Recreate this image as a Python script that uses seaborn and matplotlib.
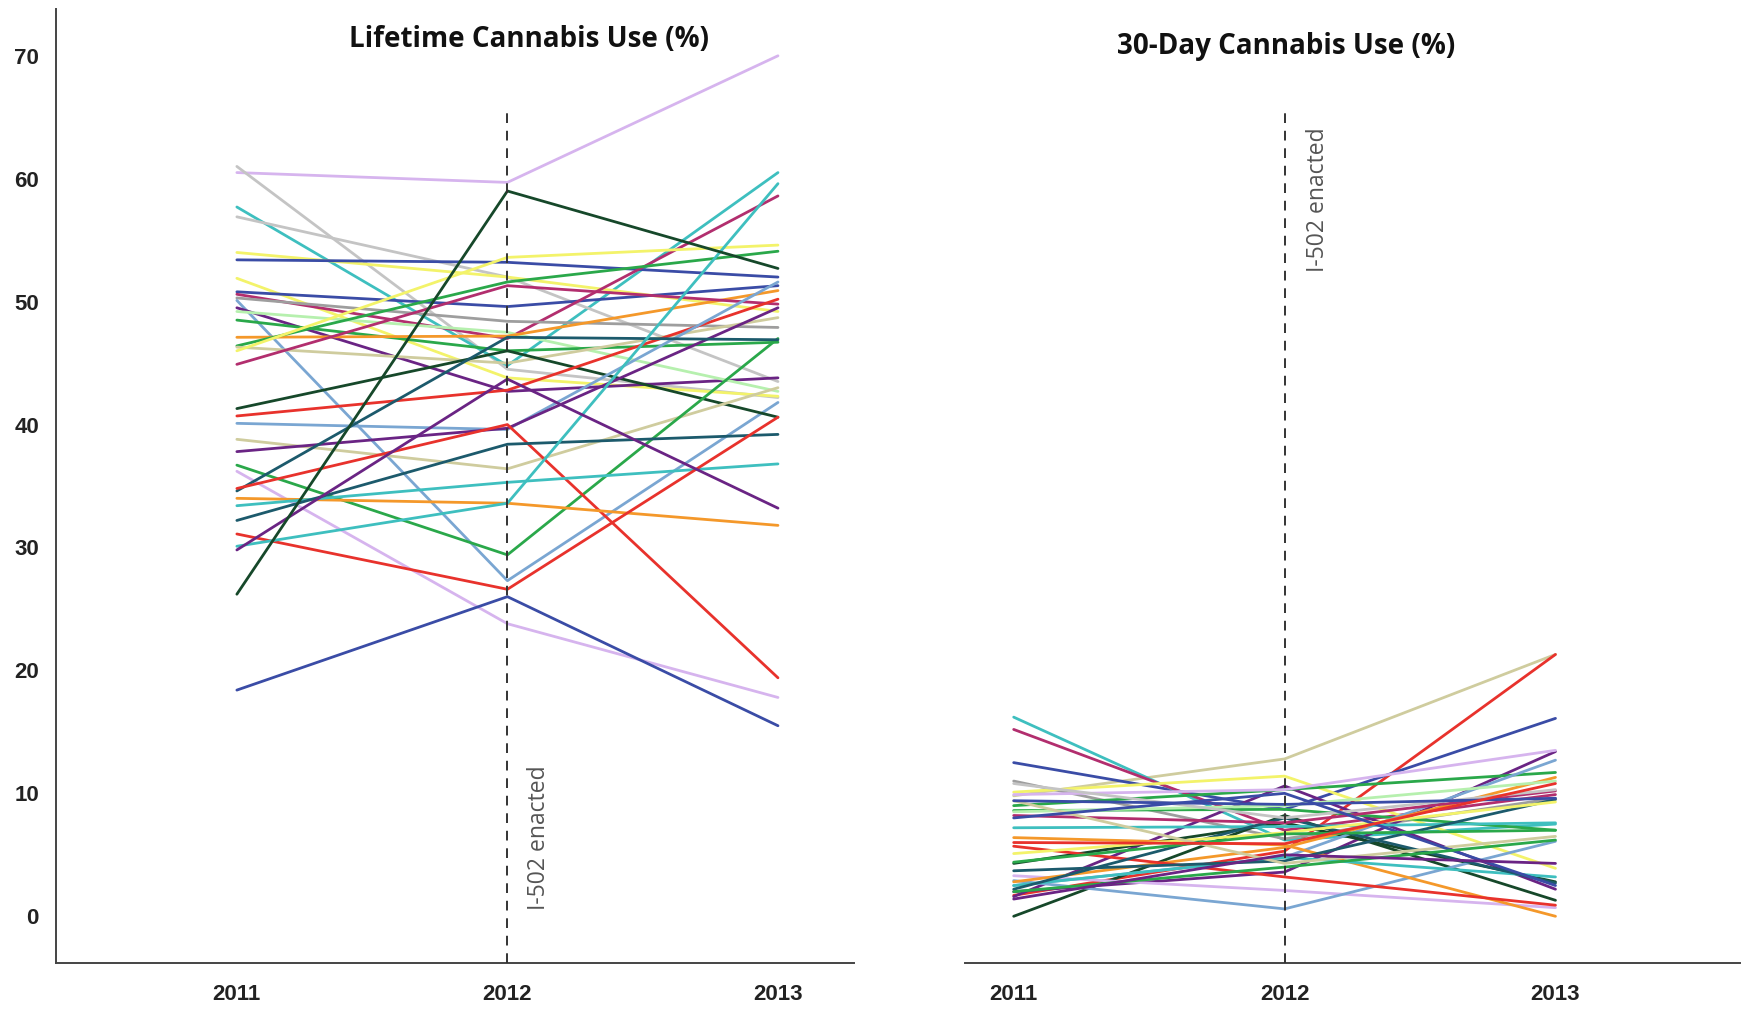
import matplotlib
matplotlib.use("Agg")
import matplotlib.pyplot as plt
import seaborn as sns
import pandas as pd

sns.set_theme(style="white")
plt.rcParams["font.family"] = ["Liberation Sans", "DejaVu Sans"]

years = [2011, 2012, 2013]

# Lifetime cannabis use (%), one entry per school district
lifetime_2011 = [60.5, 61.0, 57.7, 56.9, 54.0, 53.4, 51.9, 50.8, 50.6, 50.3, 50.1, 49.5,
                 49.2, 48.5, 47.1, 46.4, 46.3, 46.0, 44.9, 41.3, 40.7, 40.1, 38.8, 37.8,
                 36.7, 36.2, 34.6, 34.8, 34.0, 33.4, 32.2, 31.1, 30.1, 29.8, 26.2, 18.4]
lifetime_2012 = [59.7, 44.5, 44.8, 52.0, 52.0, 53.2, 43.8, 49.6, 47.0, 48.4, 27.3, 42.7,
                 47.5, 46.0, 47.2, 51.6, 45.0, 53.6, 51.3, 46.0, 42.8, 39.6, 36.4, 39.7,
                 29.4, 23.8, 47.1, 40.0, 33.6, 35.3, 38.4, 26.6, 33.6, 43.7, 59.0, 26.0]
lifetime_2013 = [70.0, 42.2, 60.5, 43.5, 49.2, 52.0, 42.3, 51.3, 58.6, 47.9, 41.8, 43.8,
                 42.7, 46.7, 50.9, 54.1, 48.7, 54.6, 49.8, 40.6, 50.2, 51.6, 43.0, 49.5,
                 47.0, 17.8, 46.9, 19.4, 31.8, 36.8, 39.2, 40.6, 59.6, 33.2, 52.7, 15.5]
lifetime_colors = ["lav", "silver", "teal", "silver", "yellow", "blue", "yellow", "blue",
                   "magenta", "gray", "steel", "purple", "lgreen", "green", "orange", "green",
                   "khaki", "yellow", "magenta", "dgreen", "red", "steel", "khaki", "purple",
                   "green", "lav", "dteal", "red", "orange", "teal", "dteal", "red",
                   "teal", "purple", "dgreen", "blue"]

# 30-day cannabis use (%)
month_2011 = [9.8, 1.7, 12.5, 16.2, 15.2, 11.0, 10.1, 1.6, 2.0, 0.0, 4.3, 9.0,
              8.6, 3.3, 9.9, 2.9, 2.5, 2.8, 6.4, 5.7, 7.2, 2.5, 3.7, 2.2,
              8.2, 8.5, 5.1, 9.4, 10.8, 9.4, 8.0, 2.0, 4.4, 1.4, 6.0]
month_2012 = [12.8, 5.3, 8.7, 6.2, 7.0, 6.3, 11.4, 10.6, 3.6, 8.2, 7.6, 10.3,
              8.7, 2.1, 10.3, 0.6, 4.8, 5.6, 5.8, 3.2, 7.3, 4.8, 4.5, 8.0,
              7.6, 9.0, 6.8, 4.3, 8.0, 9.1, 10.0, 4.0, 6.7, 5.0, 5.9]
month_2013 = [21.3, 21.3, 16.1, 7.5, 9.9, 9.6, 3.9, 2.2, 13.4, 1.3, 2.8, 11.7,
              7.0, 0.7, 13.5, 6.1, 12.7, 11.3, 0.0, 0.9, 7.6, 3.2, 9.5, 2.7,
              10.2, 11.0, 9.3, 6.5, 10.3, 9.6, 2.5, 6.2, 7.0, 4.3, 10.8]
month_colors = ["khaki", "red", "blue", "teal", "magenta", "gray", "yellow", "purple",
                "purple", "dgreen", "dgreen", "green", "green", "lav", "lav", "steel",
                "steel", "orange", "orange", "red", "teal", "teal", "dteal", "dteal",
                "magenta", "lgreen", "yellow", "khaki", "silver", "blue", "blue", "green",
                "green", "purple", "red"]

palette = {
    "lav": "#d6b4ee", "silver": "#c4c4c4", "gray": "#9e9e9e", "teal": "#3ebfbf",
    "yellow": "#f3f36a", "blue": "#3a4ca6", "steel": "#7aa6d2", "purple": "#6a2484",
    "lgreen": "#b6f0ae", "green": "#2aa84a", "orange": "#f4982a", "khaki": "#cfcc9e",
    "magenta": "#b22e6e", "dgreen": "#16482a", "red": "#e8322c", "dteal": "#1c5a6c",
}


def long_frame(v11, v12, v13, colors):
    rows = []
    for i, (a, b, c, col) in enumerate(zip(v11, v12, v13, colors)):
        for yr, val in zip(years, (a, b, c)):
            rows.append({"district": f"d{i}", "year": yr, "value": val, "color": col})
    return pd.DataFrame(rows)


life_df = long_frame(lifetime_2011, lifetime_2012, lifetime_2013, lifetime_colors)
month_df = long_frame(month_2011, month_2012, month_2013, month_colors)

fig = plt.figure(figsize=(17.43, 10.09), dpi=100)
ax1 = fig.add_axes([0.0319, 0.0456, 0.4579, 0.9454])
ax2 = fig.add_axes([0.5536, 0.0456, 0.4445, 0.9454])

for ax, df in ((ax1, life_df), (ax2, month_df)):
    pal = {d: palette[c] for d, c in zip(df["district"], df["color"])}
    sns.lineplot(data=df, x="year", y="value", hue="district", palette=pal,
                 estimator=None, legend=False, linewidth=2.0, ax=ax)
    ax.set_ylim(-3.8, 73.8)
    ax.set_xlabel("")
    ax.set_ylabel("")
    ax.set_xticks(years)
    ax.set_xticklabels([str(y) for y in years])
    ax.tick_params(axis="x", direction="out", length=8, width=1.2, color="#444",
                   labelsize=16, labelcolor="#222", pad=7)
    for lab in ax.get_xticklabels():
        lab.set_fontweight("bold")
    ax.spines["top"].set_visible(False)
    ax.spines["right"].set_visible(False)
    ax.spines["bottom"].set_color("#444")
    ax.spines["bottom"].set_linewidth(1.4)
    ax.set_facecolor("white")
    ax.grid(False)

ax1.set_xlim(2010.33, 2013.28)
ax2.set_xlim(2010.82, 2013.68)

ax1.set_yticks([0, 10, 20, 30, 40, 50, 60, 70])
ax1.tick_params(axis="y", direction="out", length=8, width=1.2, color="#444",
                labelsize=16, labelcolor="#222", pad=4)
for lab in ax1.get_yticklabels():
    lab.set_fontweight("bold")
ax1.spines["left"].set_color("#444")
ax1.spines["left"].set_linewidth(1.4)

ax2.spines["left"].set_visible(False)
ax2.set_yticks([])

# Policy marker at 2012
for ax, top in ((ax1, 65.6), (ax2, 65.4)):
    ax.plot([2012, 2012], [-3.8, top], color="#333333", linestyle=(0, (5, 4)),
            linewidth=1.4, zorder=5)

ax1.text(2012.115, 0.5, "I-502 enacted", rotation=90, ha="center", va="bottom",
         fontsize=16.5, color="#555555", family=["Open Sans", "DejaVu Sans"])
ax2.text(2012.123, 52.4, "I-502 enacted", rotation=90, ha="center", va="bottom",
         fontsize=16.5, color="#555555", family=["Open Sans", "DejaVu Sans"])

ax1.text(0.593, 0.9686, "Lifetime Cannabis Use (%)", transform=ax1.transAxes,
         ha="center", va="center", fontsize=20, fontweight="bold",
         family=["Open Sans", "DejaVu Sans"], color="#111")
ax2.text(0.4145, 0.9605, "30-Day Cannabis Use (%)", transform=ax2.transAxes,
         ha="center", va="center", fontsize=20, fontweight="bold",
         family=["Open Sans", "DejaVu Sans"], color="#111")

fig.savefig("out.png", dpi=100, facecolor="white")
